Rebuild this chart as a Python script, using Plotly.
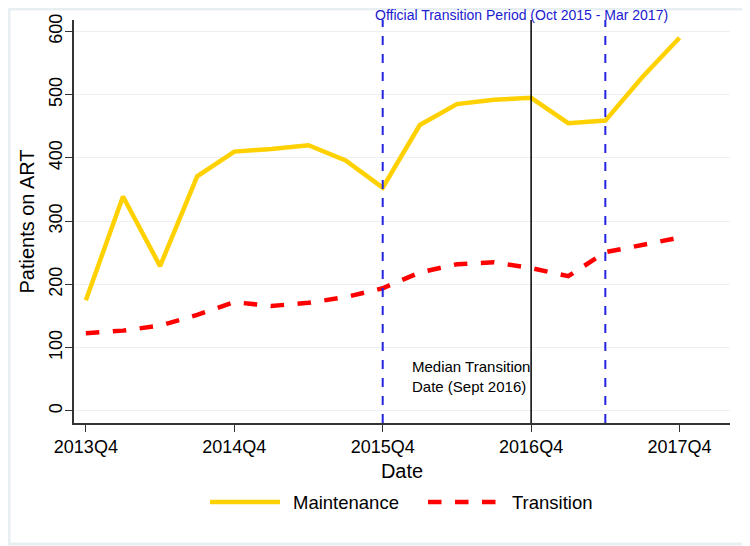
import plotly.graph_objects as go

quarters = ["2013Q4","2014Q1","2014Q2","2014Q3","2014Q4","2015Q1","2015Q2","2015Q3",
            "2015Q4","2016Q1","2016Q2","2016Q3","2016Q4","2017Q1","2017Q2","2017Q3","2017Q4"]
maintenance = [175, 339, 229, 371, 410, 414, 420, 396, 353, 452, 485, 492, 495, 455, 459, 528, 590]
transition = [123, 127, 135, 152, 172, 166, 171, 180, 194, 219, 232, 235, 226, 213, 251, 263, 274]
tick_labels = ["2013Q4", "2014Q4", "2015Q4", "2016Q4", "2017Q4"]
period_start = "2015Q4"
period_end = "2017Q2"
median_q = "2016Q4"

x = list(range(len(quarters)))
idx = {q: i for i, q in enumerate(quarters)}

MAINT_COLOR = "#FFD100"
TRANS_COLOR = "#FF0000"

fig = go.Figure()
fig.add_trace(go.Scatter(x=x, y=maintenance, mode="lines", name="Maintenance",
                         line=dict(color=MAINT_COLOR, width=4.5)))
fig.add_trace(go.Scatter(x=x, y=transition, mode="lines", name="Transition",
                         line=dict(color=TRANS_COLOR, width=4.5, dash="dash")))

for q in (period_start, period_end):
    fig.add_shape(type="line", x0=idx[q], x1=idx[q], yref="paper", y0=0, y1=1,
                  line=dict(color="#2525E0", width=2, dash="dash"))
fig.add_shape(type="line", x0=idx[median_q], x1=idx[median_q], yref="paper", y0=0, y1=1,
              line=dict(color="black", width=1.5))

fig.add_annotation(x=11.75, xref="x", y=1.0, yref="paper",
                   yanchor="bottom", text="Official Transition Period (Oct 2015 - Mar 2017)",
                   showarrow=False, font=dict(color="#2020D0", size=14, family="Liberation Sans"),
                   yshift=-5)
fig.add_annotation(x=idx[median_q], xref="x", y=100, yref="y", xanchor="right", yanchor="top",
                   text="Median Transition<br>Date (Sept 2016)", align="left", showarrow=False,
                   font=dict(color="black", size=15, family="Liberation Sans"), xshift=1, yshift=-8)

# page body has an 8px offset; positions below are in screen pixels
W, H = 656, 403
def px(xp):
    return (xp - 74) / W
def py(yp):
    return (423 - yp) / H

# light frame (right and bottom edges visible inside the figure)
fig.add_shape(type="rect", xref="paper", yref="paper", x0=px(9), x1=px(748),
              y0=py(544), y1=py(9), line=dict(color="#E8EFF2", width=3))

# manual legend
fig.add_shape(type="line", xref="paper", yref="paper", x0=px(210), x1=px(280), y0=py(502), y1=py(502),
              line=dict(color=MAINT_COLOR, width=4.5))
fig.add_shape(type="line", xref="paper", yref="paper", x0=px(428), x1=px(500), y0=py(502), y1=py(502),
              line=dict(color=TRANS_COLOR, width=4.5, dash="dash"))
fig.add_annotation(xref="paper", yref="paper", x=px(291), y=py(502), xanchor="left", yanchor="middle",
                   text="Maintenance", showarrow=False, font=dict(size=18.5))
fig.add_annotation(xref="paper", yref="paper", x=px(510), y=py(502), xanchor="left", yanchor="middle",
                   text="Transition", showarrow=False, font=dict(size=18.5))

fig.update_layout(
    width=742, height=538,
    margin=dict(l=66, r=20, t=12, b=123),
    paper_bgcolor="white", plot_bgcolor="white",
    font=dict(family="Liberation Sans", color="black", size=17),
    showlegend=False,
    xaxis=dict(range=[-0.32, 17.36], tickvals=[idx[t] for t in tick_labels], ticktext=tick_labels,
               showgrid=False, zeroline=False, showline=True, linecolor="#333", linewidth=1.5,
               ticks="outside", ticklen=7, tickcolor="#333", automargin=False,
               title=dict(text="Date", standoff=8), tickfont=dict(size=18)),
    yaxis=dict(range=[-19, 618], tickvals=[0, 100, 200, 300, 400, 500, 600],
               showgrid=True, gridcolor="#EAF0F3", gridwidth=1, zeroline=False,
               showline=True, linecolor="#333", linewidth=1.5, automargin=False,
               ticks="outside", ticklen=7, tickcolor="#333", tickangle=-90,
               ticklabelstandoff=-4,
               title=dict(text="Patients on ART", standoff=6), tickfont=dict(size=18)),
)

fig.write_html("out.html")
